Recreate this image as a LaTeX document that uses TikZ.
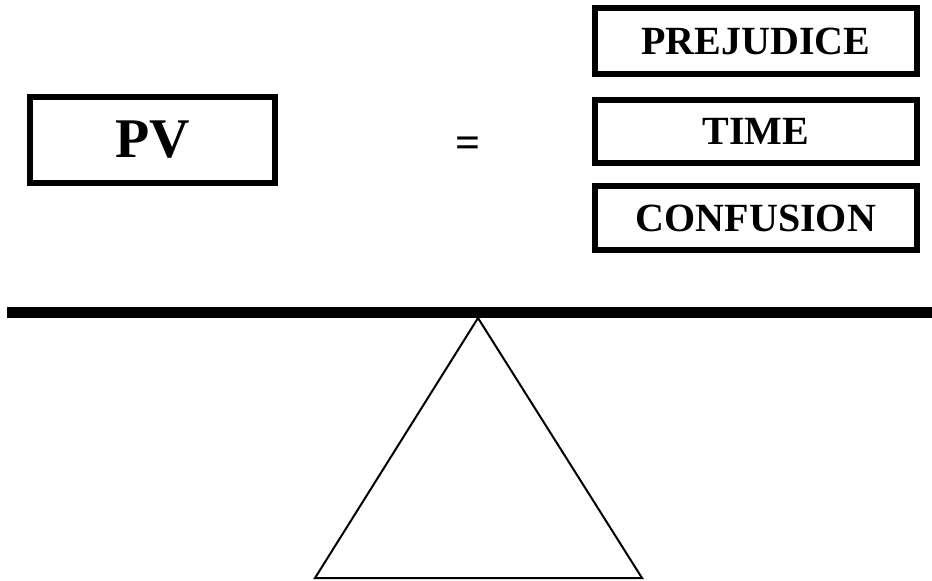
\documentclass[tikz,border=0pt]{standalone}
\usepackage{fontspec}
\setmainfont{Liberation Serif}
\begin{document}
\begin{tikzpicture}[x=1pt,y=-1pt,
  wordbox/.style={draw, line width=6pt, inner sep=0pt, font=\bfseries\fontsize{40}{40}\selectfont, minimum width=322pt},
  bigbox/.style={draw, line width=6pt, inner sep=0pt, font=\bfseries\fontsize{56}{56}\selectfont, minimum width=245pt, minimum height=86pt}]
\useasboundingbox (0,0) rectangle (932,581);
\node[bigbox] (pv) at (152.5,140) {PV};
\node[font=\bfseries\fontsize{44}{44}\selectfont] (eq) at (468,147) {=};
\node[wordbox, minimum height=66pt] (prej) at (756,41) {PREJUDICE};
\node[wordbox, minimum height=63pt] (time) at (756,131.5) {TIME};
\node[wordbox, minimum height=64pt] (conf) at (756,218) {CONFUSION};
\fill (7,307) rectangle (932,318);
\coordinate (apex) at (478,318);
\coordinate (bl) at (315,578);
\coordinate (br) at (642,578);
\draw[line width=2pt, line join=miter] (apex) -- (bl) -- (br) -- cycle;
\end{tikzpicture}
\end{document}
